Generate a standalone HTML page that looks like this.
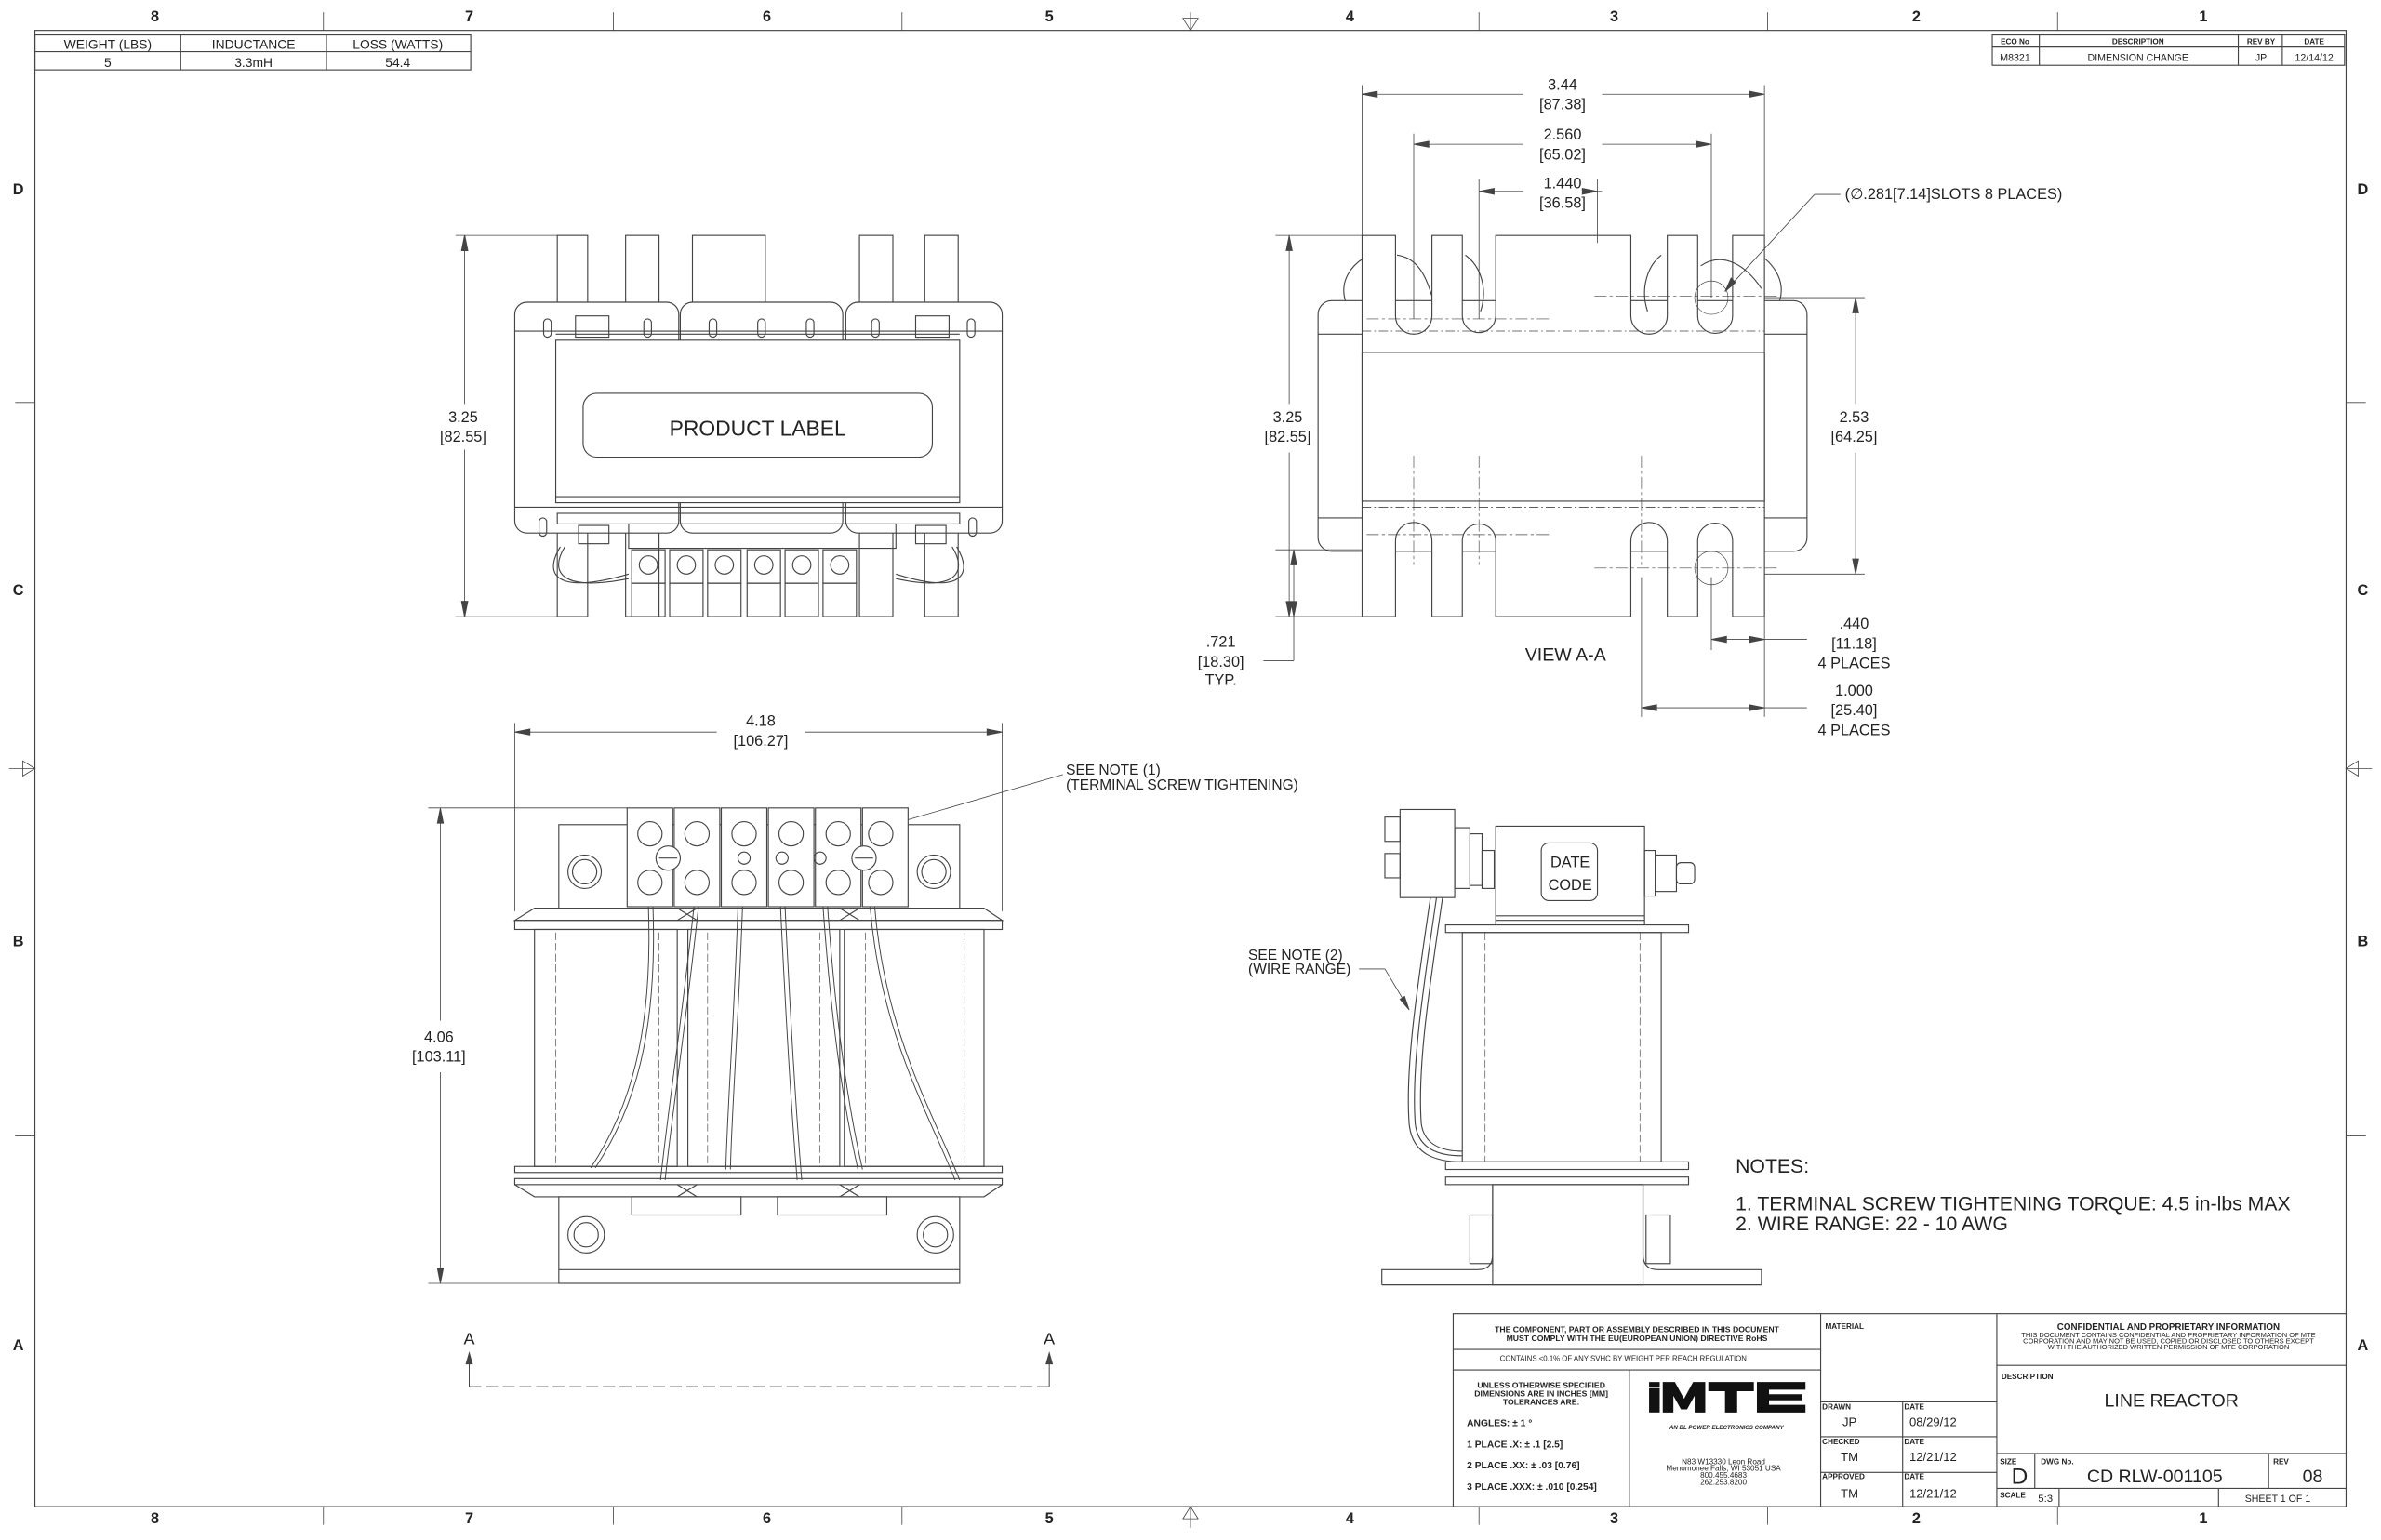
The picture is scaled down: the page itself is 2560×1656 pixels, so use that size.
<!DOCTYPE html>
<html><head><meta charset="utf-8"><style>
html,body{margin:0;padding:0;background:#fff;width:2560px;height:1656px;overflow:hidden}
svg{display:block}
text{font-family:"Liberation Sans",sans-serif;fill:#222}
</style></head><body>
<svg width="2560" height="1656" viewBox="0 0 1568 1014" preserveAspectRatio="none" xmlns="http://www.w3.org/2000/svg">
<g fill="none" stroke="#444" stroke-width="0.7">
<!-- border -->
<rect x="23" y="20" width="1522" height="972"/>
<g stroke-width="0.5">
<line x1="213" y1="8" x2="213" y2="20"/><line x1="404" y1="8" x2="404" y2="20"/><line x1="594" y1="8" x2="594" y2="20"/><line x1="974" y1="8" x2="974" y2="20"/><line x1="1164" y1="8" x2="1164" y2="20"/><line x1="1355" y1="8" x2="1355" y2="20"/>
<line x1="213" y1="992" x2="213" y2="1004"/><line x1="404" y1="992" x2="404" y2="1004"/><line x1="594" y1="992" x2="594" y2="1004"/><line x1="974" y1="992" x2="974" y2="1004"/><line x1="1164" y1="992" x2="1164" y2="1004"/><line x1="1355" y1="992" x2="1355" y2="1004"/>
<line x1="10" y1="265" x2="23" y2="265"/><line x1="10" y1="748" x2="23" y2="748"/><line x1="1545" y1="265" x2="1558" y2="265"/><line x1="1545" y1="748" x2="1558" y2="748"/>
<line x1="784" y1="8" x2="784" y2="20"/><path d="M779 12 L789 12 L784 20 Z"/>
<line x1="784" y1="992" x2="784" y2="1006"/><path d="M779 1000 L789 1000 L784 992 Z"/>
<line x1="6" y1="506" x2="23" y2="506"/><path d="M15 501 L15 511 L23 506 Z"/>
<line x1="1545" y1="506" x2="1562" y2="506"/><path d="M1553 501 L1553 511 L1545 506 Z"/>
</g>
<!-- top-left table -->
<rect x="23" y="23" width="287" height="23"/><line x1="23" y1="34" x2="310" y2="34"/>
<line x1="119" y1="23" x2="119" y2="46"/><line x1="215" y1="23" x2="215" y2="46"/>
<!-- rev table -->
<rect x="1312" y="23" width="232" height="20"/><line x1="1312" y1="31" x2="1544" y2="31"/>
<line x1="1343" y1="23" x2="1343" y2="43"/><line x1="1474" y1="23" x2="1474" y2="43"/><line x1="1503" y1="23" x2="1503" y2="43"/>

<!-- ===== FRONT VIEW (top-left) ===== -->
<rect x="367" y="155" width="20" height="251"/><rect x="412" y="155" width="22" height="251"/>
<rect x="456" y="155" width="48" height="45"/>
<rect x="566" y="155" width="22" height="251"/><rect x="609" y="155" width="22" height="251"/>
<rect x="339" y="199" width="108" height="152" rx="8" fill="#fff"/>
<rect x="448" y="199" width="107" height="152" rx="8" fill="#fff"/>
<rect x="557" y="199" width="103" height="152" rx="8" fill="#fff"/>
<line x1="339" y1="218" x2="660" y2="218"/><line x1="339" y1="334" x2="660" y2="334"/>
<rect x="366" y="224" width="266" height="107" fill="#fff"/>
<line x1="366" y1="220" x2="632" y2="220"/><line x1="366" y1="327" x2="632" y2="327"/>
<rect x="384" y="259" width="230" height="42" rx="9"/>
<rect x="367" y="338" width="265" height="7"/>
<rect x="379" y="208" width="22" height="14"/><rect x="603" y="208" width="22" height="14"/>
<rect x="381" y="346" width="20" height="12"/><rect x="603" y="346" width="20" height="12"/>
<g>
<rect x="358" y="210" width="5" height="12" rx="2.5"/><rect x="424" y="210" width="5" height="12" rx="2.5"/>
<rect x="467" y="210" width="5" height="12" rx="2.5"/><rect x="499" y="210" width="5" height="12" rx="2.5"/><rect x="531" y="210" width="5" height="12" rx="2.5"/>
<rect x="574" y="210" width="5" height="12" rx="2.5"/><rect x="637" y="210" width="5" height="12" rx="2.5"/>
<rect x="355" y="341" width="5" height="12" rx="2.5"/><rect x="638" y="341" width="5" height="12" rx="2.5"/>
</g>
<rect x="414" y="345" width="176" height="16"/>
<g>
<rect x="416" y="362" width="22" height="22"/><rect x="441" y="362" width="22" height="22"/><rect x="466" y="362" width="22" height="22"/>
<rect x="492" y="362" width="22" height="22"/><rect x="517" y="362" width="22" height="22"/><rect x="542" y="362" width="22" height="22"/>
<circle cx="427" cy="372" r="6"/><circle cx="452" cy="372" r="6"/><circle cx="477" cy="372" r="6"/><circle cx="503" cy="372" r="6"/><circle cx="528" cy="372" r="6"/><circle cx="553" cy="372" r="6"/>
<rect x="416" y="384" width="22" height="22"/><rect x="441" y="384" width="22" height="22"/><rect x="466" y="384" width="22" height="22"/>
<rect x="492" y="384" width="22" height="22"/><rect x="517" y="384" width="22" height="22"/><rect x="542" y="384" width="22" height="22"/>
</g>
<path d="M369 360 C358 378 365 392 414 378"/><path d="M372 360 C362 376 368 390 414 381"/>
<path d="M630 360 C641 378 634 392 590 378"/><path d="M627 360 C637 376 631 390 590 381"/>
<!-- dim 3.25 front -->
<line x1="300" y1="155" x2="367" y2="155" stroke-width="0.4"/><line x1="300" y1="406" x2="367" y2="406" stroke-width="0.4"/>
<line x1="306" y1="158" x2="306" y2="266" stroke-width="0.5"/><line x1="306" y1="296" x2="306" y2="403" stroke-width="0.5"/>
<path d="M306 155 L304 165 L308 165Z M306 406 L304 396 L308 396Z" fill="#444"/>

<!-- ===== VIEW A-A ===== -->
<rect x="868" y="198" width="322" height="165" rx="9" fill="#fff"/>
<line x1="868" y1="220" x2="1190" y2="220"/><line x1="868" y1="341" x2="1190" y2="341"/>
<path d="M897 155 V406 H919 V356 A10 10 0 0 1 943 356 V406 H963 V356 A10 10 0 0 1 985 356 V406 H1074 V356 A10 10 0 0 1 1098 356 V406 H1118 V356 A10 10 0 0 1 1141 356 V406 H1162 V155 H1141 V208 A10 10 0 0 1 1118 208 V155 H1098 V208 A10 10 0 0 1 1074 208 V155 H985 V208 A10 10 0 0 1 963 208 V155 H943 V208 A10 10 0 0 1 919 208 V155 Z" fill="#fff"/>
<rect x="897" y="232" width="265" height="98" fill="#fff"/>
<line x1="897" y1="218" x2="1162" y2="218" stroke-dasharray="6 2 1 2" stroke-width="0.5"/>
<line x1="897" y1="334" x2="1162" y2="334" stroke-dasharray="6 2 1 2" stroke-width="0.5"/>
<path d="M886 198 C882 185 890 175 898 170"/><path d="M1172 198 C1176 185 1168 175 1162 170"/>
<path d="M920 168 C935 170 940 185 943 195"/><path d="M965 168 C975 175 980 190 975 205"/>
<path d="M1094 168 C1085 175 1080 190 1085 205"/><path d="M1120 175 C1135 165 1150 175 1160 190"/>
<g stroke-width="0.4" stroke-dasharray="8 2 2 2">
<line x1="900" y1="210" x2="1020" y2="210"/><line x1="1050" y1="195" x2="1170" y2="195"/>
<line x1="900" y1="352" x2="1020" y2="352"/><line x1="1050" y1="374" x2="1170" y2="374"/>
<line x1="931" y1="300" x2="931" y2="372"/><line x1="974" y1="300" x2="974" y2="372"/><line x1="1081" y1="300" x2="1081" y2="372"/>
</g>
<circle cx="1127" cy="196" r="11" stroke-width="0.4"/><circle cx="1127" cy="374" r="11" stroke-width="0.4"/>
<g stroke-width="0.5">
<line x1="897" y1="56" x2="897" y2="155"/><line x1="1162" y1="56" x2="1162" y2="155"/>
<line x1="900" y1="62" x2="1003" y2="62"/><line x1="1055" y1="62" x2="1159" y2="62"/>
<path d="M897 62 l10 -2 v4z M1162 62 l-10 -2 v4z" fill="#444"/>
<line x1="931" y1="88" x2="931" y2="210"/><line x1="1127" y1="88" x2="1127" y2="196"/>
<line x1="934" y1="95" x2="1003" y2="95"/><line x1="1055" y1="95" x2="1124" y2="95"/>
<path d="M931 95 l10 -2 v4z M1127 95 l-10 -2 v4z" fill="#444"/>
<line x1="974" y1="118" x2="974" y2="210"/><line x1="1052" y1="118" x2="1052" y2="160"/>
<line x1="977" y1="126" x2="1003" y2="126"/><line x1="1055" y1="126" x2="1049" y2="126"/>
<path d="M974 126 l10 -2 v4z M1052 126 l-10 -2 v4z" fill="#444"/>
<line x1="840" y1="155" x2="897" y2="155"/><line x1="840" y1="406" x2="897" y2="406"/>
<line x1="849" y1="158" x2="849" y2="266"/><line x1="849" y1="298" x2="849" y2="403"/>
<path d="M849 155 l-2 10 h4z M849 406 l-2 -10 h4z" fill="#444"/>
<line x1="840" y1="362" x2="897" y2="362"/>
<line x1="852" y1="364" x2="852" y2="435"/><line x1="852" y1="435" x2="832" y2="435"/>
<path d="M852 362 l-2 10 h4z M852 406 l-2 -10 h4z" fill="#444"/>
<line x1="1162" y1="196" x2="1228" y2="196"/><line x1="1162" y1="378" x2="1228" y2="378"/>
<line x1="1222" y1="199" x2="1222" y2="266"/><line x1="1222" y1="298" x2="1222" y2="375"/>
<path d="M1222 196 l-2 10 h4z M1222 378 l-2 -10 h4z" fill="#444"/>
<line x1="1127" y1="380" x2="1127" y2="428"/><line x1="1162" y1="406" x2="1162" y2="472"/><line x1="1081" y1="380" x2="1081" y2="472"/>
<line x1="1130" y1="421" x2="1190" y2="421"/><path d="M1127 421 l10 -2 v4z M1162 421 l-10 -2 v4z" fill="#444"/>
<line x1="1084" y1="466" x2="1190" y2="466"/><path d="M1081 466 l10 -2 v4z M1162 466 l-10 -2 v4z" fill="#444"/>
<line x1="1212" y1="128" x2="1195" y2="128"/><line x1="1195" y1="128" x2="1136" y2="192"/>
<path d="M1136 192 l4 -9 l3 3z" fill="#444"/>
</g>

<!-- ===== BOTTOM-LEFT VIEW ===== -->
<g stroke-width="0.5">
<line x1="339" y1="476" x2="339" y2="600"/><line x1="660" y1="476" x2="660" y2="600"/>
<line x1="342" y1="482" x2="472" y2="482"/><line x1="530" y1="482" x2="657" y2="482"/>
<path d="M339 482 l10 -2 v4z M660 482 l-10 -2 v4z" fill="#444"/>
<line x1="282" y1="532" x2="413" y2="532"/><line x1="282" y1="845" x2="368" y2="845"/>
<line x1="290" y1="535" x2="290" y2="672"/><line x1="290" y1="706" x2="290" y2="842"/>
<path d="M290 532 l-2 10 h4z M290 845 l-2 -10 h4z" fill="#444"/>
<line x1="700" y1="510" x2="580" y2="545"/><path d="M578 546 l9 -5 l1 4z" fill="#444"/>
<line x1="895" y1="638" x2="912" y2="638"/><line x1="912" y1="638" x2="927" y2="663"/><path d="M928 665 l-6 -7 l3 -2z" fill="#444"/>
</g>
<rect x="368" y="543" width="264" height="55" fill="#fff"/>
<circle cx="385" cy="574" r="11"/><circle cx="385" cy="574" r="8"/>
<circle cx="615" cy="574" r="11"/><circle cx="615" cy="574" r="8"/>
<g fill="#fff">
<rect x="413" y="532" width="30" height="65"/><rect x="444" y="532" width="30" height="65"/><rect x="475" y="532" width="30" height="65"/>
<rect x="506" y="532" width="30" height="65"/><rect x="537" y="532" width="30" height="65"/><rect x="568" y="532" width="30" height="65"/>
</g>
<g>
<circle cx="428" cy="549" r="8"/><circle cx="459" cy="549" r="8"/><circle cx="490" cy="549" r="8"/><circle cx="521" cy="549" r="8"/><circle cx="552" cy="549" r="8"/><circle cx="580" cy="549" r="8"/>
<circle cx="428" cy="581" r="8"/><circle cx="459" cy="581" r="8"/><circle cx="490" cy="581" r="8"/><circle cx="521" cy="581" r="8"/><circle cx="552" cy="581" r="8"/><circle cx="580" cy="581" r="8"/>
<circle cx="440" cy="565" r="8" fill="#fff"/><circle cx="569" cy="565" r="8" fill="#fff"/>
<line x1="434" y1="565" x2="446" y2="565"/><line x1="563" y1="565" x2="575" y2="565"/>
<circle cx="490" cy="565" r="4"/><circle cx="515" cy="565" r="4"/><circle cx="540" cy="565" r="4"/>
</g>
<path d="M339 606 L352 598 H446 L459 606 Z M446 606 L459 598 H553 L566 606Z M553 606 L566 598 H648 L660 606Z" fill="#fff"/>
<rect x="339" y="606" width="321" height="6"/>
<rect x="352" y="612" width="94" height="156"/><rect x="453" y="612" width="100" height="156"/><rect x="556" y="612" width="92" height="156"/>
<g stroke-dasharray="5 2" stroke-width="0.4">
<line x1="366" y1="614" x2="366" y2="766"/><line x1="434" y1="614" x2="434" y2="766"/>
<line x1="466" y1="614" x2="466" y2="766"/><line x1="540" y1="614" x2="540" y2="766"/>
<line x1="570" y1="614" x2="570" y2="766"/><line x1="635" y1="614" x2="635" y2="766"/>
</g>
<rect x="339" y="768" width="321" height="4"/><rect x="339" y="776" width="321" height="4"/>
<path d="M339 780 L352 788 H446 L459 780 M446 780 L459 788 H553 L566 780 M553 780 L566 788 H648 L660 780"/>
<rect x="368" y="788" width="264" height="57" fill="#fff"/>
<rect x="416" y="788" width="72" height="12"/><rect x="512" y="788" width="72" height="12"/>
<circle cx="386" cy="813" r="12"/><circle cx="386" cy="813" r="8"/>
<circle cx="616" cy="813" r="12"/><circle cx="616" cy="813" r="8"/>
<line x1="368" y1="836" x2="632" y2="836"/>
<g stroke-width="0.6">
<path d="M427 597 C430 680 415 730 389 769"/><path d="M430 597 C433 680 418 730 392 769"/>
<path d="M457 597 C448 680 440 730 435 777"/><path d="M460 597 C451 680 443 730 438 777"/>
<path d="M486 597 C483 680 479 730 478 770"/><path d="M489 597 C486 680 482 730 481 770"/>
<path d="M514 597 C518 680 521 730 525 777"/><path d="M517 597 C521 680 524 730 528 777"/>
<path d="M542 597 C548 680 556 730 565 770"/><path d="M545 597 C551 680 559 730 568 770"/>
<path d="M573 597 C580 680 610 730 629 777"/><path d="M576 597 C583 680 613 730 632 777"/>
</g>
<!-- A markers -->
<line x1="309" y1="893" x2="309" y2="913" stroke-width="0.6"/><line x1="691" y1="893" x2="691" y2="913" stroke-width="0.6"/>
<path d="M309 891 l-2 7 h4z M691 891 l-2 7 h4z" fill="#444"/>
<line x1="309" y1="913" x2="691" y2="913" stroke-dasharray="8 3" stroke-width="0.5"/>

<!-- ===== SIDE VIEW ===== -->
<rect x="922" y="533" width="36" height="58" fill="#fff"/>
<rect x="912" y="538" width="10" height="16"/><rect x="912" y="562" width="10" height="16"/>
<rect x="958" y="545" width="10" height="40"/><rect x="968" y="549" width="8" height="34"/>
<rect x="976" y="560" width="8" height="25"/>
<rect x="985" y="544" width="98" height="66" fill="#fff"/>
<rect x="1015" y="555" width="37" height="38" rx="5"/>
<line x1="985" y1="603" x2="1083" y2="603"/><line x1="985" y1="606" x2="1083" y2="606"/>
<rect x="1083" y="560" width="7" height="30"/><rect x="1090" y="563" width="14" height="24"/><rect x="1104" y="568" width="12" height="14" rx="3"/>
<rect x="952" y="609" width="160" height="5" fill="#fff"/>
<rect x="963" y="614" width="131" height="151"/>
<line x1="978" y1="614" x2="978" y2="765" stroke-dasharray="5 2" stroke-width="0.4"/><line x1="1080" y1="614" x2="1080" y2="765" stroke-dasharray="5 2" stroke-width="0.4"/>
<rect x="952" y="765" width="160" height="5"/><rect x="952" y="775" width="160" height="5"/>
<rect x="983" y="780" width="99" height="66"/>
<path d="M910 846 V836 H973 Q983 836 983 826 V780"/><path d="M1160 846 V836 H1092 Q1082 836 1082 826 V780"/>
<line x1="910" y1="846" x2="1160" y2="846"/>
<rect x="968" y="800" width="15" height="32"/><rect x="1084" y="800" width="16" height="32"/>
<path d="M942 591 C935 640 925 700 928 740 C930 760 945 765 963 765"/>
<path d="M946 591 C939 640 929 700 932 740 C934 757 948 761 963 761"/>
<path d="M950 591 C943 640 933 700 936 740 C938 754 950 758 963 758"/>

<!-- title block -->
<rect x="957" y="865" width="588" height="127" fill="#fff"/>
<line x1="1199" y1="865" x2="1199" y2="992"/><line x1="1315" y1="865" x2="1315" y2="992"/>
<line x1="957" y1="888.5" x2="1199" y2="888.5"/><line x1="957" y1="902" x2="1199" y2="902"/>
<line x1="1073" y1="902" x2="1073" y2="992"/>
<line x1="1199" y1="923" x2="1315" y2="923"/><line x1="1199" y1="946" x2="1315" y2="946"/><line x1="1199" y1="969.5" x2="1315" y2="969.5"/>
<line x1="1253" y1="923" x2="1253" y2="992"/>
<line x1="1315" y1="899" x2="1545" y2="899"/><line x1="1315" y1="957" x2="1545" y2="957"/><line x1="1315" y1="980" x2="1545" y2="980"/>
<line x1="1340" y1="957" x2="1340" y2="980"/><line x1="1494" y1="957" x2="1494" y2="980"/>
<line x1="1356" y1="980" x2="1356" y2="992"/><line x1="1461" y1="980" x2="1461" y2="992"/>
</g>

<!-- MTE logo -->
<g fill="#111">
<rect x="1086" y="914" width="7" height="16"/><rect x="1086" y="910" width="7" height="3"/>
<path d="M1095 910 h8 l6 11 l6 -11 h8 v20 h-7 v-11 l-5 9 h-4 l-5 -9 v11 h-7z"/>
<path d="M1125 910 h30 v6 h-11 v14 h-8 v-14 h-11z"/>
<path d="M1157 910 h32 v5 h-24 v3 h22 v4 h-22 v3 h24 v5 h-32z"/>
</g>

<!-- texts -->
<g font-weight="bold" font-size="10" text-anchor="middle">
<text x="102" y="14">8</text><text x="309" y="14">7</text><text x="505" y="14">6</text><text x="691" y="14">5</text><text x="889" y="14">4</text><text x="1063" y="14">3</text><text x="1262" y="14">2</text><text x="1451" y="14">1</text>
<text x="102" y="1003">8</text><text x="309" y="1003">7</text><text x="505" y="1003">6</text><text x="691" y="1003">5</text><text x="889" y="1003">4</text><text x="1063" y="1003">3</text><text x="1262" y="1003">2</text><text x="1451" y="1003">1</text>
<text x="12" y="128">D</text><text x="12" y="392">C</text><text x="12" y="623">B</text><text x="12" y="889">A</text>
<text x="1556" y="128">D</text><text x="1556" y="392">C</text><text x="1556" y="623">B</text><text x="1556" y="889">A</text>
</g>
<g font-size="8.5" text-anchor="middle">
<text x="71" y="32">WEIGHT (LBS)</text><text x="167" y="32">INDUCTANCE</text><text x="262" y="32">LOSS (WATTS)</text>
<text x="71" y="44">5</text><text x="167" y="44">3.3mH</text><text x="262" y="44">54.4</text>
</g>
<g font-size="5" text-anchor="middle">
<text x="1327" y="29" font-weight="bold">ECO No</text><text x="1408" y="29" font-weight="bold">DESCRIPTION</text><text x="1489" y="29" font-weight="bold">REV BY</text><text x="1524" y="29" font-weight="bold">DATE</text>
<text x="1327" y="40" font-size="6.5" fill="#555">M8321</text><text x="1408" y="40" font-size="6.5" fill="#555">DIMENSION CHANGE</text><text x="1489" y="40" font-size="6.5" fill="#555">JP</text><text x="1524" y="40" font-size="6.5" fill="#555">12/14/12</text>
</g>
<g font-size="10" text-anchor="middle" fill="#444">
<text x="305" y="278">3.25</text><text x="305" y="291">[82.55]</text>
<text x="848" y="278">3.25</text><text x="848" y="291">[82.55]</text>
<text x="1221" y="278">2.53</text><text x="1221" y="291">[64.25]</text>
<text x="1029" y="59">3.44</text><text x="1029" y="72">[87.38]</text>
<text x="1029" y="92">2.560</text><text x="1029" y="105">[65.02]</text>
<text x="1029" y="124">1.440</text><text x="1029" y="137">[36.58]</text>
<text x="804" y="426">.721</text><text x="804" y="439">[18.30]</text><text x="804" y="451">TYP.</text>
<text x="1221" y="414">.440</text><text x="1221" y="427">[11.18]</text><text x="1221" y="440">4 PLACES</text>
<text x="1221" y="458">1.000</text><text x="1221" y="471">[25.40]</text><text x="1221" y="484">4 PLACES</text>
<text x="501" y="478">4.18</text><text x="501" y="491">[106.27]</text>
<text x="289" y="686">4.06</text><text x="289" y="699">[103.11]</text>
</g>
<text x="1215" y="131" font-size="10" fill="#444">(∅.281[7.14]SLOTS 8 PLACES)</text>
<text x="499" y="287" font-size="14" text-anchor="middle" fill="#444">PRODUCT LABEL</text>
<text x="1031" y="435" font-size="12" text-anchor="middle">VIEW A-A</text>
<text x="1034" y="571" font-size="10" text-anchor="middle">DATE</text><text x="1034" y="586" font-size="10" text-anchor="middle">CODE</text>
<g font-size="9.5">
<text x="702" y="510">SEE NOTE (1)</text><text x="702" y="520">(TERMINAL SCREW TIGHTENING)</text>
<text x="822" y="632">SEE NOTE (2)</text><text x="822" y="641">(WIRE RANGE)</text>
</g>
<text x="309" y="885" font-size="11" text-anchor="middle">A</text><text x="691" y="885" font-size="11" text-anchor="middle">A</text>
<g font-size="13">
<text x="1143" y="772">NOTES:</text>
<text x="1143" y="797">1.  TERMINAL SCREW TIGHTENING TORQUE: 4.5 in-lbs MAX</text>
<text x="1143" y="810">2.  WIRE RANGE: 22 - 10 AWG</text>
</g>
<g font-size="5.3" text-anchor="middle" font-weight="bold">
<text x="1078" y="877">THE COMPONENT, PART OR ASSEMBLY DESCRIBED IN THIS DOCUMENT</text>
<text x="1078" y="883">MUST COMPLY WITH THE EU(EUROPEAN UNION) DIRECTIVE RoHS</text>
<text x="1015" y="914">UNLESS OTHERWISE SPECIFIED</text><text x="1015" y="919.5">DIMENSIONS ARE IN INCHES [MM]</text><text x="1015" y="925">TOLERANCES ARE:</text>
<text x="1428" y="875.5" font-size="6">CONFIDENTIAL AND PROPRIETARY INFORMATION</text>
</g>
<text x="1069" y="896" font-size="4.8" text-anchor="middle" fill="#444">CONTAINS &lt;0.1% OF ANY SVHC BY WEIGHT PER REACH REGULATION</text>
<g font-size="6.3" font-weight="bold">
<text x="966" y="939">ANGLES: ± 1 °</text>
<text x="966" y="953">1 PLACE .X: ± .1 [2.5]</text>
<text x="966" y="967">2 PLACE .XX: ± .03 [0.76]</text>
<text x="966" y="981">3 PLACE .XXX: ± .010 [0.254]</text>
</g>
<text x="1137" y="941" font-size="3.8" font-style="italic" font-weight="bold" text-anchor="middle">AN BL POWER ELECTRONICS COMPANY</text>
<g font-size="5" text-anchor="middle" fill="#444">
<text x="1135" y="964">N83 W13330 Leon Road</text><text x="1135" y="968.5">Menomonee Falls, WI 53051 USA</text><text x="1135" y="973">800.455.4683</text><text x="1135" y="977.5">262.253.8200</text>
<text x="1428" y="880.5" font-size="4.6">THIS DOCUMENT CONTAINS CONFIDENTIAL AND PROPRIETARY INFORMATION OF MTE</text>
<text x="1428" y="884.5" font-size="4.6">CORPORATION AND MAY NOT BE USED, COPIED OR DISCLOSED TO OTHERS EXCEPT</text>
<text x="1428" y="888.5" font-size="4.6">WITH THE AUTHORIZED WRITTEN PERMISSION OF MTE CORPORATION</text>
</g>
<g font-size="5" font-weight="bold">
<text x="1202" y="875">MATERIAL</text>
<text x="1200" y="928">DRAWN</text><text x="1254" y="928">DATE</text>
<text x="1200" y="951">CHECKED</text><text x="1254" y="951">DATE</text>
<text x="1200" y="974">APPROVED</text><text x="1254" y="974">DATE</text>
<text x="1318" y="908">DESCRIPTION</text>
<text x="1317" y="964">SIZE</text><text x="1344" y="964">DWG No.</text><text x="1497" y="964">REV</text>
<text x="1317" y="986">SCALE</text>
</g>
<g font-size="8" fill="#555" text-anchor="middle">
<text x="1218" y="939">JP</text><text x="1273" y="939">08/29/12</text>
<text x="1218" y="962">TM</text><text x="1273" y="962">12/21/12</text>
<text x="1218" y="986">TM</text><text x="1273" y="986">12/21/12</text>
</g>
<text x="1430" y="926" font-size="12" text-anchor="middle">LINE REACTOR</text>
<text x="1330" y="977" font-size="15" text-anchor="middle">D</text>
<text x="1419" y="976" font-size="12" text-anchor="middle">CD RLW-001105</text>
<text x="1523" y="976" font-size="12" text-anchor="middle">08</text>
<text x="1347" y="989" font-size="7" text-anchor="middle" fill="#555">5:3</text>
<text x="1500" y="989" font-size="6.5" text-anchor="middle" fill="#444">SHEET 1  OF 1</text>
</svg>
</body></html>
